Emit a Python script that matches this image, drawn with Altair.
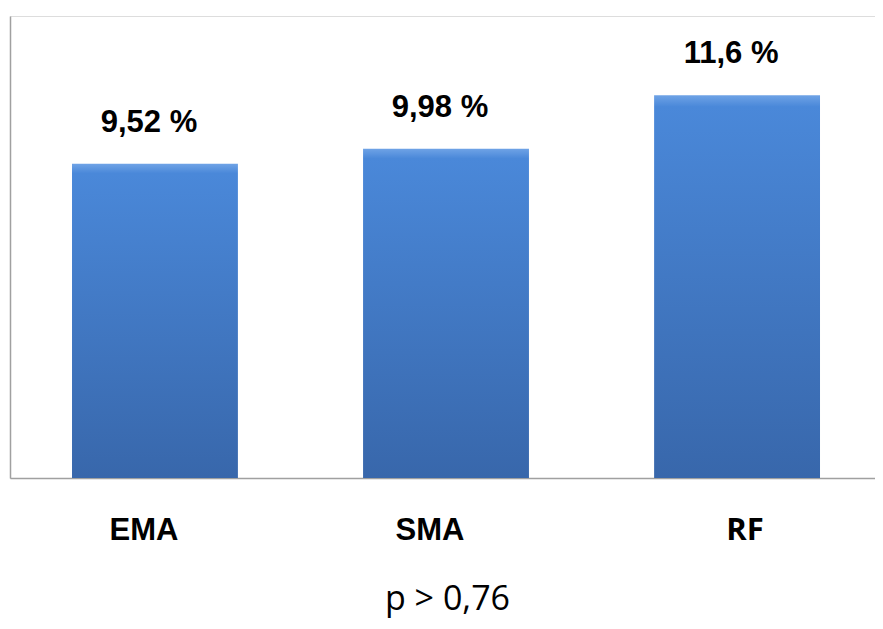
import altair as alt
import pandas as pd

categories = ["EMA", "SMA", "RF"]
values = [9.52, 9.98, 11.6]
value_labels = ["9,52 %", "9,98 %", "11,6 %"]
footer = "p > 0,76"

df = pd.DataFrame({"cat": categories, "val": values, "lab": value_labels})

grad = alt.LinearGradient(
    gradient="linear",
    stops=[
        alt.GradientStop(color="#6fa3e6", offset=0),
        alt.GradientStop(color="#4a88d9", offset=0.03),
        alt.GradientStop(color="#3867ab", offset=1),
    ],
    x1=0, x2=0, y1=0, y2=1,
)

x = alt.X(
    "cat:N",
    sort=categories,
    scale=alt.Scale(paddingInner=0.43, paddingOuter=0.201, align=0.53),
    axis=alt.Axis(
        title=None,
        ticks=False,
        domainColor="#a0a0a0",
        domainWidth=1.5,
        labelAngle=0,
        labelFontSize=31,
        labelFontWeight="bold",
        labelFont={"expr": "datum.value == 'RF' ? 'Open Sans' : 'Liberation Sans'"},
        labelColor="#000000",
        labelPadding=37,
        labelOffset={"expr": "datum.value == 'RF' ? 8 : datum.value == 'SMA' ? -16 : -11"},
    ),
)
y = alt.Y(
    "val:Q",
    scale=alt.Scale(domain=[0, 14], nice=False),
    axis=alt.Axis(
        title=None, ticks=False, labels=False, grid=False,
        domainColor="#a0a0a0", domainWidth=1.5,
    ),
)

bars = alt.Chart(df).mark_bar(color=grad).encode(x=x, y=y)
texts = alt.Chart(df).mark_text(
    font="Liberation Sans", fontSize=31, fontWeight="bold", color="#000000",
    baseline="alphabetic", dy=-32, dx=-6,
).encode(x=x, y=y, text="lab:N")

chart = (
    alt.layer(bars, texts)
    .properties(
        width=865,
        height=462,
        padding={"left": 2, "top": 8, "right": 0, "bottom": 4},
        title=alt.Title(
            footer, orient="bottom", font="Open Sans", fontSize=34,
            fontWeight="normal", color="#000000", offset=38, anchor="middle",
            dx=5,
        ),
    )
    .configure_view(stroke=None)
    .configure(background="#ffffff")
)

chart.save("out.html", embed_options={"renderer": "svg", "actions": False})
